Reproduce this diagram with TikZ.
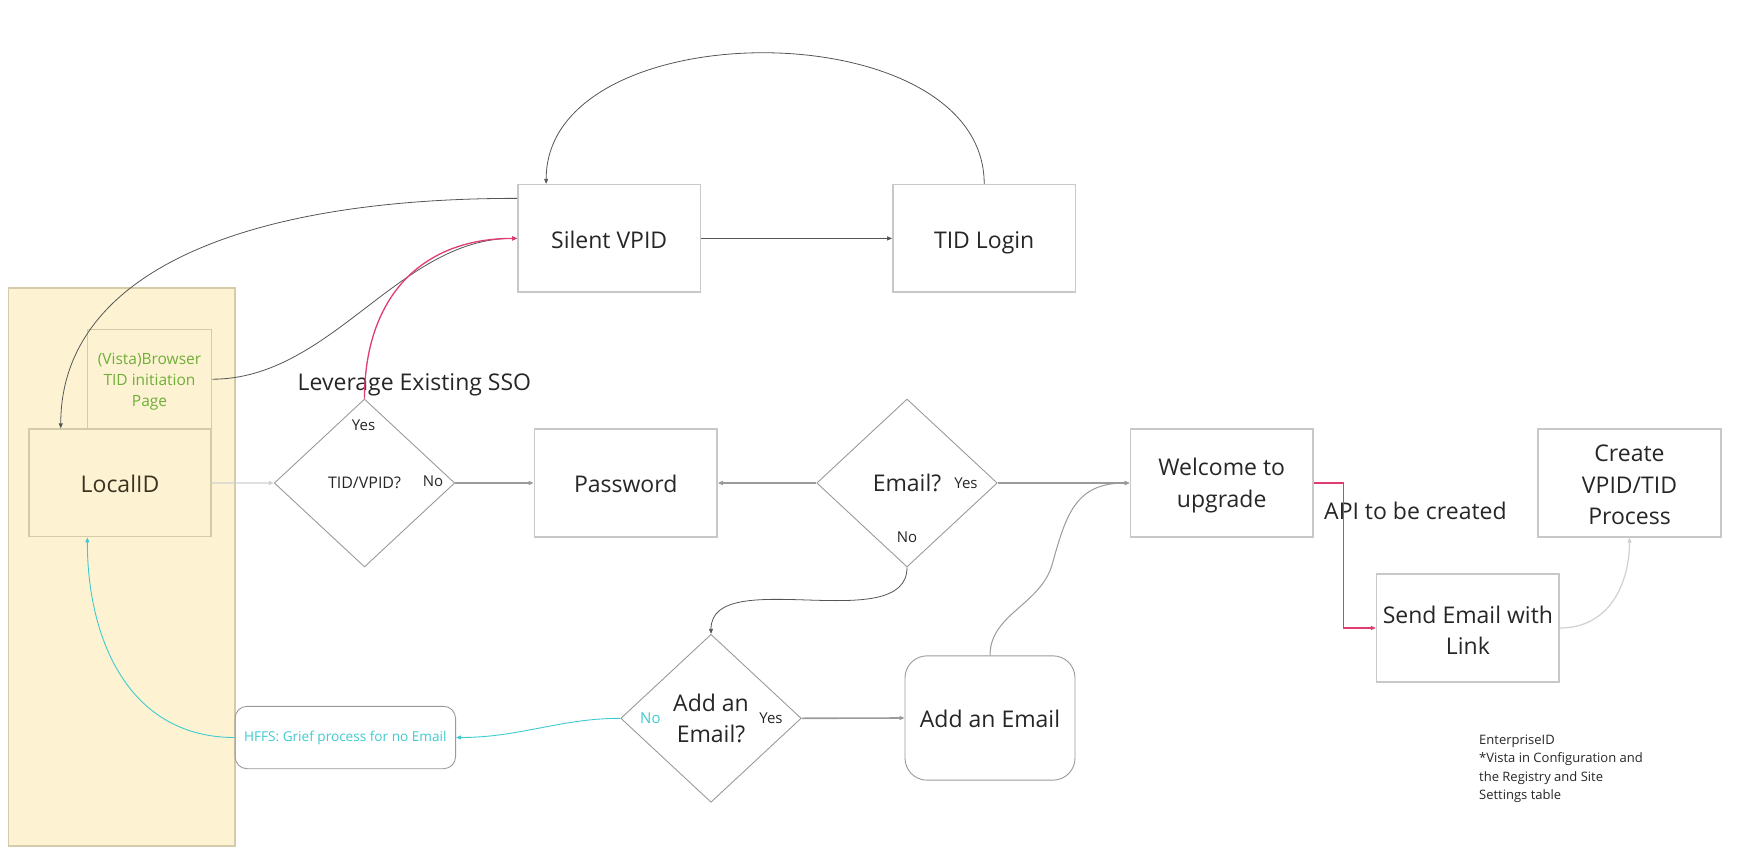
\documentclass[tikz,border=0pt]{standalone}
\usepackage{fontspec}
\setmainfont{Open Sans}
\usetikzlibrary{arrows.meta,shapes.geometric}
\definecolor{boxline}{HTML}{C8C8C8}
\definecolor{dialine}{HTML}{9A9A9A}
\definecolor{txt}{HTML}{262626}
\definecolor{conn}{HTML}{555555}
\definecolor{connlt}{HTML}{9A9A9A}
\definecolor{connvlt}{HTML}{D0D0D0}
\definecolor{lanefill}{HTML}{FDF3D3}
\definecolor{laneline}{HTML}{D6CBA8}
\definecolor{olive}{HTML}{3B3321}
\definecolor{leafgreen}{HTML}{6FAE38}
\definecolor{pinkc}{HTML}{E03C70}
\definecolor{tealc}{HTML}{3FCAD0}
\newcommand\fsbig{\fontsize{23}{31.5}\selectfont}
\newcommand\fslab{\fontsize{15}{18}\selectfont}
\newcommand\fsgreen{\fontsize{15.5}{21}\selectfont}
\newcommand\fsnote{\fontsize{13}{18.5}\selectfont}
\tikzset{
  stdbox/.style={draw=boxline, line width=1.6pt, minimum width=182.5pt, minimum height=107.5pt,
    inner sep=0pt, align=center, font=\fsbig, text=txt},
  oneline/.style={text height=20pt, text depth=0.5pt},
  dia/.style={draw=dialine, line width=0.9pt, shape=diamond, minimum width=180.5pt,
    minimum height=168pt, inner sep=0pt, align=center, text=txt},
  lab/.style={font=\fslab, text=txt, inner sep=0pt},
  tip/.style={-{Triangle[length=5pt,width=4pt]}},
  cn/.style={tip, draw=conn, line width=0.8pt},
  cnlt/.style={tip, draw=connlt, line width=1.6pt},
  cnvlt/.style={tip, draw=connvlt, line width=1.2pt},
  cnpink/.style={tip, draw=pinkc, line width=1.3pt},
  cnteal/.style={tip, draw=tealc, line width=0.9pt},
}
\begin{document}
\begin{tikzpicture}[x=1pt,y=-1pt]
\useasboundingbox (0,0) rectangle (1753,864);
% lane
\node (lane) [fill=lanefill, draw=laneline, line width=1.4pt, minimum width=226.5pt, minimum height=558pt, inner sep=0pt] at (121.75,567) {};
\node (browser) [fill=lanefill, draw=laneline, line width=1.6pt, minimum width=124pt, minimum height=99.7pt, inner sep=0pt, align=center, font=\fsgreen, text=leafgreen, text height=55pt, text depth=0.4pt] at (149.5,379.2) {(Vista)Browser\\TID initiation\\Page};
\node (localid) [stdbox, oneline, fill=lanefill, draw=laneline, text=olive] at (120,482.9) {LocalID};
% boxes
\node (silent) [stdbox, oneline] at (609.2,238.4) {Silent VPID};
\node (tidlogin) [stdbox, oneline] at (984.2,238.4) {TID Login};
\node (password) [stdbox, oneline] at (625.7,483) {Password};
\node (welcome) [stdbox, text height=49pt, text depth=0.5pt] at (1221.7,483) {Welcome to\\upgrade};
\node (create) [stdbox, text height=84pt, text depth=0.5pt] at (1629.5,483) {Create\\VPID/TID\\Process};
\node (send) [stdbox, text height=53.9pt, text depth=0.5pt] at (1467.9,628) {Send Email with\\Link};
\node (addbox) [draw=dialine, line width=0.9pt, rounded corners=22pt, minimum width=170pt, minimum height=124.3pt, inner sep=0pt, font=\fsbig, text=txt, oneline] at (990,718) {Add an Email};
\node (hffs) [draw=dialine, line width=0.9pt, rounded corners=12pt, minimum width=220.5pt, minimum height=62.4pt, inner sep=0pt, font=\fontsize{13.6}{16}\selectfont, text=tealc] at (345.3,737.5) {HFFS: Grief process for no Email};
% diamonds
\node (tiddia) [dia, font=\fontsize{16}{20}\selectfont] at (364.5,483) {TID/VPID?};
\node (emaildia) [dia, font=\fsbig] at (907,483) {Email?};
\node (adddia) [dia, font=\fsbig] at (711,718.3) {Add an\\Email?};
% labels
\node (sso) [font=\fsbig, text=txt, anchor=base west, inner sep=0pt] at (297.5,390) {Leverage Existing SSO};
\node (tidyes) [lab] at (363.6,425.7) {Yes};
\node (tidno) [lab] at (433,481.7) {No};
\node (emyes) [lab] at (966,483.3) {Yes};
\node (emno) [lab] at (907,537.7) {No};
\node (addno) [lab, text=tealc] at (650.4,718) {No};
\node (addyes) [lab] at (771,718) {Yes};
\node (api) [font=\fsbig, text=txt, anchor=base west, inner sep=0pt] at (1324,519) {API to be created};
\node (note) [font=\fsnote, text=txt, anchor=north west, align=left, inner sep=0pt] at (1479,734.3) {EnterpriseID\\*Vista in Configuration and\\the Registry and Site\\Settings table};
% connectors
\draw[cn] (silent) -- (tidlogin);
\draw[cn] (tidlogin.north) .. controls +(0,-174) and +(0,-174) .. ([xshift=29pt]silent.north west);
\draw[cn] ([yshift=-14.5pt]silent.north west) .. controls +(-288,0) and +(0,-149) .. ([xshift=32.8pt]localid.north west);
\draw[cn] (browser.east) .. controls +(119,0) and +(-118,0) .. (silent.west);
\draw[cnpink] (tiddia.north) .. controls +(0,-99) and +(-98,0) .. (silent.west);
\draw[cnvlt] (localid.east) -- (tiddia.west);
\draw[cnlt] (tiddia.east) -- (password.west);
\draw[cnlt] (emaildia.west) -- (password.east);
\draw[cnlt] (emaildia.east) -- (welcome.west);
\draw[cn] (emaildia.south) .. controls +(0,70) and +(0,-70) .. (adddia.north);
\draw[cnlt] (adddia.east) -- (addbox.west);
\coordinate (addmid) at (1052,565);
\draw[cn, draw=connlt, line width=1pt] (addbox.north) .. controls +(0,-41) and (1040,605) .. (addmid) .. controls (1066,515) and (1075,483) .. (welcome.west);
\draw[cnteal] (adddia.west) .. controls +(-60,0) and +(64,0) .. (hffs.east);
\draw[cnteal] (hffs.west) .. controls +(-105,0) and +(0,103) .. ([xshift=59.4pt]localid.south west);
\draw[cnpink] (welcome.east) -- ++(30,0) |- (send.west);
\draw[cnvlt] (send.east) .. controls +(50,0) and +(0,45) .. (create.south);
\end{tikzpicture}
\end{document}
